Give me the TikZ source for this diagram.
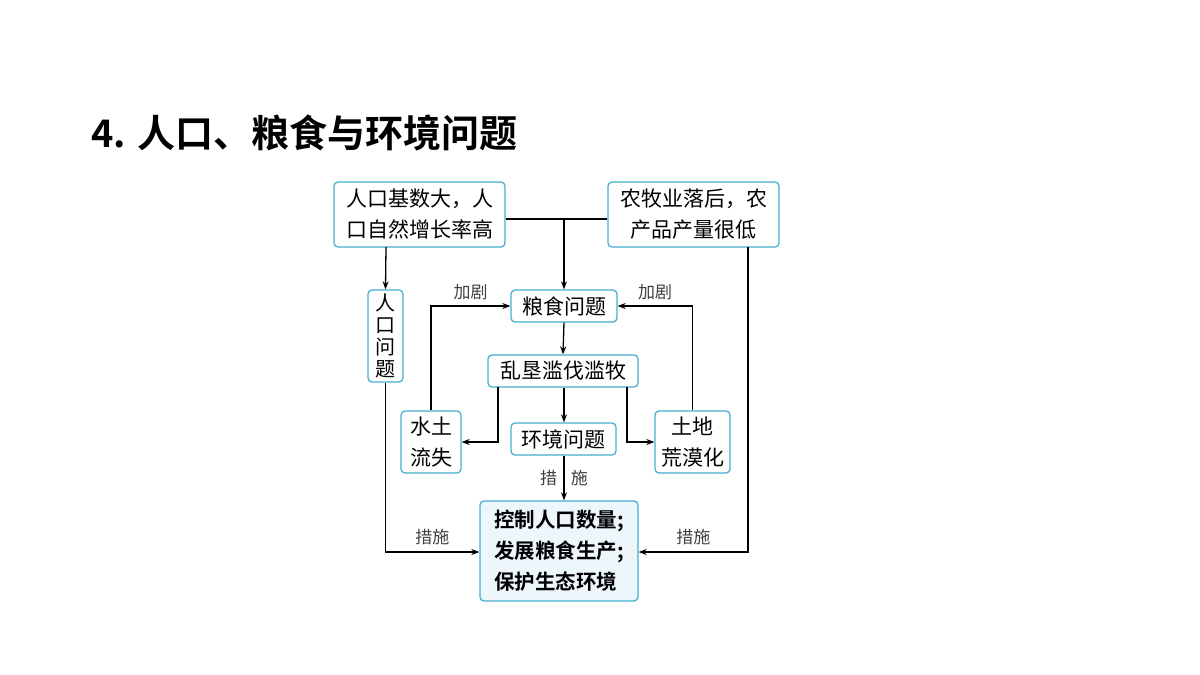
\documentclass[tikz,border=0pt]{standalone}
\usepackage{fontspec}
\newfontfamily\cjk{Noto Sans CJK SC}
\newfontfamily\cjkb{Noto Sans CJK SC Bold}
\usetikzlibrary{arrows.meta}
\definecolor{bx}{RGB}{70,175,210}
\definecolor{bf}{RGB}{236,246,251}
\begin{document}
\begin{tikzpicture}[x=1pt,y=-1pt,
  box/.style={draw=bx,line width=1.3pt,rounded corners=4pt,fill=white,inner sep=0pt,font=\cjk\fontsize{21}{31}\selectfont,align=center},
  ar/.style={-{Stealth[length=8pt,width=6pt]},line width=1.3pt},
  ln/.style={line width=1.3pt},
  lb/.style={font=\cjk\fontsize{17}{19}\selectfont,text=black!75}]
\useasboundingbox (0,0) rectangle (1200,675);
\node[anchor=west,font=\cjkb\fontsize{38}{42}\selectfont] (title) at (88,133) {4. 人口、粮食与环境问题};
\node[box,minimum width=171,minimum height=65] (A) at (419.5,214.5) {人口基数大，人\\口自然增长率高};
\node[box,minimum width=171,minimum height=65] (B) at (693.5,214.5) {农牧业落后，农\\产品产量很低};
\node[box,minimum width=35,minimum height=92,font=\cjk\fontsize{20}{22}\selectfont] (P) at (385.5,336) {人\\口\\问\\题};
\node[box,minimum width=106,minimum height=32] (F) at (564,306) {粮食问题};
\node[box,minimum width=150,minimum height=32] (L) at (563,371) {乱垦滥伐滥牧};
\node[box,minimum width=105,minimum height=32] (E) at (563.5,439) {环境问题};
\node[box,minimum width=60,minimum height=62] (W) at (431,442) {水土\\流失};
\node[box,minimum width=75,minimum height=62] (D) at (692.5,442) {土地\\荒漠化};
\node[box,fill=bf,minimum width=158,minimum height=100,font=\cjkb\fontsize{20.5}{31}\selectfont,align=left] (C) at (559,551) {控制人口数量;\\发展粮食生产;\\保护生态环境};
\coordinate (j) at (564,219);
\draw[ln] (A.east|-j) -- (B.west|-j);
\draw[ar] (j) -- (F.north);
\draw[ar] (386,247) -- (P.north);
\draw[ar] (F.south) -- (L.north);
\draw[ar] (L.south-|F.south) -- (E.north-|F.south);
\draw[ar] (498,387) |- (W.east);
\draw[ar] (627,387) |- (D.west);
\draw[ar] (W.north) |- (F.west) node[lb,pos=0.75,above=2pt] {加剧};
\draw[ar] (D.north) |- (F.east) node[lb,pos=0.75,above=2pt] {加剧};
\draw[ar] (E.south-|F.south) -- (C.north-|F.south) node[lb,midway,left=3pt] {措} node[lb,midway,right=3pt] {施};
\draw[ar] (P.south) |- (C.west|-0,552) node[lb,pos=0.75,above=3pt] {措施};
\draw[ar] (748,247) |- (C.east|-0,552) node[lb,pos=0.75,above=3pt] {措施};
\end{tikzpicture}
\end{document}
